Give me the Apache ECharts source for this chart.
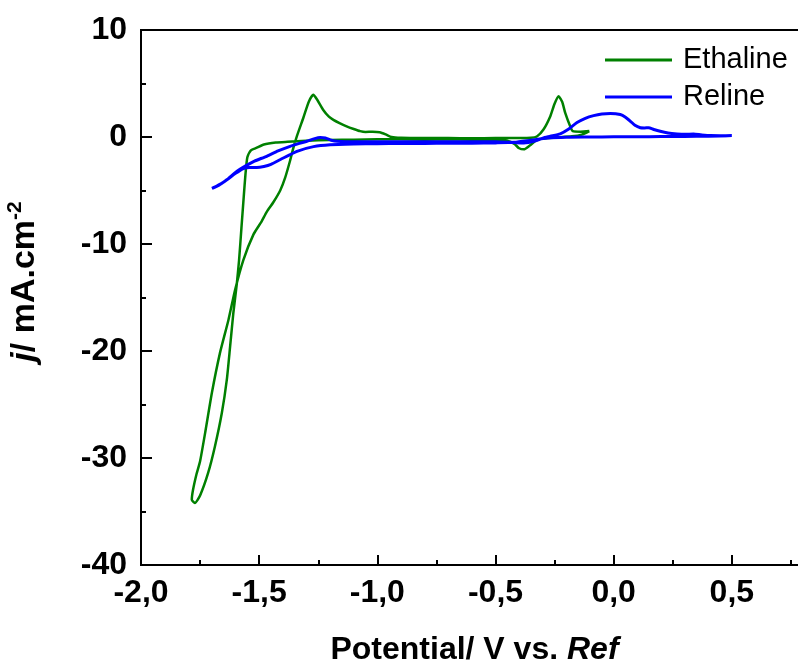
<!DOCTYPE html>
<html>
<head>
<meta charset="utf-8">
<script src="https://cdn.jsdelivr.net/npm/echarts@6/dist/echarts.min.js"></script>
<style>
html,body{margin:0;padding:0;background:#fff;}
#chart{width:798px;height:663px;}
</style>
</head>
<body>
<div id="chart"></div>
<script>
// ---- data ----
const seriesNames = ["Ethaline", "Reline"];
const xTickValues = [-2.0, -1.5, -1.0, -0.5, 0.0, 0.5];
const yTickValues = [-40, -30, -20, -10, 0, 10];

const ethalineV = [
  -0.103,-0.135,-0.177,-0.25,-0.30,-0.33,-0.355,-0.38,-0.40,-0.42,-0.45,-0.50,-0.60,-0.70,-0.80,-0.90,-1.00,-1.10,-1.20,-1.30,
  -1.38,-1.43,-1.48,-1.51,-1.535,-1.55,-1.558,-1.565,-1.575,-1.585,-1.595,-1.609,-1.623,-1.637,-1.658,-1.687,-1.716,-1.75,-1.772,-1.785,
  -1.78,-1.765,-1.75,-1.729,-1.70,-1.666,-1.63,-1.602,-1.567,-1.524,-1.49,-1.468,-1.44,-1.411,-1.39,-1.369,-1.355,-1.34,-1.313,-1.29,
  -1.271,-1.255,-1.228,-1.205,-1.186,-1.16,-1.13,-1.10,-1.073,-1.05,-1.02,-0.99,-0.965,-0.94,-0.90,-0.80,-0.70,-0.60,-0.50,-0.40,
  -0.35,-0.325,-0.297,-0.268,-0.25,-0.233,-0.218,-0.205,-0.184,-0.173,-0.14,-0.103
];
const ethalineJ = [
  0.55,0.22,0.06,-0.05,-0.15,-0.35,-0.8,-1.15,-1.05,-0.65,-0.35,-0.25,-0.25,-0.22,-0.25,-0.22,-0.22,-0.25,-0.28,-0.35,
  -0.45,-0.52,-0.7,-1.0,-1.25,-1.9,-3.5,-5.5,-8.5,-11.5,-13.8,-16.4,-19.6,-22.7,-25.8,-28.9,-31.4,-33.5,-34.2,-33.9,
  -33.0,-31.5,-30.3,-27.7,-23.9,-20.2,-17.1,-14.3,-11.5,-9.1,-7.9,-7.0,-6.1,-5.0,-3.8,-2.2,-1.0,0.1,1.8,3.3,
  3.95,3.5,2.5,1.9,1.6,1.3,1.0,0.75,0.55,0.47,0.5,0.45,0.25,0.0,-0.08,-0.1,-0.1,-0.12,-0.1,-0.1,
  -0.08,0.05,0.7,1.95,3.1,3.8,3.3,2.25,1.0,0.55,0.5,0.55
];

const relineV = [
  0.50,0.40,0.30,0.20,0.10,0.00,-0.10,-0.20,-0.28,-0.35,-0.42,-0.50,-0.60,-0.70,-0.80,-0.90,-1.00,-1.10,-1.20,-1.27,
  -1.34,-1.41,-1.45,-1.48,-1.51,-1.54,-1.567,-1.60,-1.637,-1.67,-1.70,
  -1.69,-1.66,-1.637,-1.60,-1.58,-1.55,-1.52,-1.468,-1.42,-1.369,-1.33,-1.298,-1.265,-1.242,-1.22,-1.195,-1.17,-1.10,-1.00,
  -0.90,-0.80,-0.70,-0.60,-0.50,-0.42,-0.38,-0.33,-0.30,-0.268,-0.226,-0.19,-0.155,-0.12,-0.085,-0.05,-0.014,0.028,0.05,0.071,
  0.09,0.113,0.13,0.148,0.17,0.197,0.23,0.268,0.30,0.338,0.37,0.409,0.45,0.50
];
const relineJ = [
  0.12,0.08,0.05,0.04,0.03,0.02,0.0,-0.02,-0.1,-0.3,-0.5,-0.55,-0.58,-0.58,-0.6,-0.6,-0.62,-0.65,-0.72,-0.9,
  -1.34,-2.1,-2.55,-2.75,-2.85,-2.85,-2.95,-3.4,-4.0,-4.5,-4.8,
  -4.7,-4.35,-4.0,-3.3,-3.0,-2.6,-2.25,-1.8,-1.3,-0.87,-0.6,-0.4,-0.15,-0.05,-0.1,-0.3,-0.4,-0.45,-0.45,
  -0.45,-0.45,-0.45,-0.45,-0.45,-0.52,-0.55,-0.35,-0.1,0.07,0.3,0.75,1.35,1.75,2.0,2.15,2.2,2.1,1.85,1.47,
  1.1,0.87,0.85,0.87,0.7,0.53,0.38,0.29,0.25,0.27,0.2,0.13,0.12,0.13
];

function zip(a, b) { return a.map((v, i) => [v, b[i]]); }

const FONT = "'Liberation Sans', Arial, sans-serif";
const chart = echarts.init(document.getElementById('chart'), null, {renderer: 'canvas'});

chart.setOption({
  backgroundColor: '#ffffff',
  animation: false,
  grid: {
    left: 141, top: 30, width: 709, height: 535,
    containLabel: false, outerBoundsMode: 'none',
    show: true, borderColor: '#000', borderWidth: 2, backgroundColor: 'transparent'
  },
  legend: {
    data: [{name: seriesNames[0], icon: 'rect'}, {name: seriesNames[1], icon: 'rect'}],
    orient: 'vertical',
    left: 605, top: 45,
    padding: 0,
    itemWidth: 67, itemHeight: 3,
    itemGap: 7,
    textStyle: {fontFamily: FONT, fontSize: 29, color: '#000', lineHeight: 30, padding: [0,0,0,6]}
  },
  xAxis: {
    type: 'value',
    min: -2, max: 1, interval: 0.5,
    name: '{b|Potential/ V vs. }{i|Ref}',
    nameLocation: 'middle',
    nameGap: 69,
    nameTextStyle: {
      padding: [0, 42, 0, 0],
      rich: {
        b: {fontFamily: FONT, fontSize: 32, fontWeight: 'bold', color: '#000'},
        i: {fontFamily: FONT, fontSize: 32, fontWeight: 'bold', fontStyle: 'italic', color: '#000'}
      }
    },
    axisLine: {show: true, onZero: false, lineStyle: {color: '#000', width: 2}},
    axisTick: {show: true, inside: true, length: 10, lineStyle: {color: '#000', width: 2}},
    minorTick: {show: true, splitNumber: 2, length: 5, lineStyle: {color: '#000', width: 2}},
    splitLine: {show: false},
    axisLabel: {
      margin: 12, fontFamily: FONT, fontSize: 32, fontWeight: 'bold', color: '#000',
      formatter: v => xTickValues.some(t => Math.abs(t - v) < 1e-9) ? v.toFixed(1).replace('.', ',') : ''
    }
  },
  yAxis: {
    type: 'value',
    min: -40, max: 10, interval: 10,
    name: '{i|j}{b|/ mA.cm}{s|-2}',
    nameLocation: 'middle',
    nameRotate: 90,
    nameGap: 96,
    nameTextStyle: {
      padding: [0, 0, 0, 32],
      rich: {
        i: {fontFamily: FONT, fontSize: 34, fontWeight: 'bold', fontStyle: 'italic', color: '#000', lineHeight: 40},
        b: {fontFamily: FONT, fontSize: 34, fontWeight: 'bold', color: '#000', lineHeight: 40},
        s: {fontFamily: FONT, fontSize: 21, fontWeight: 'bold', color: '#000', verticalAlign: 'top', lineHeight: 40, padding: [0,0,14,0]}
      }
    },
    axisLine: {show: true, onZero: false, lineStyle: {color: '#000', width: 2}},
    axisTick: {show: true, inside: true, length: 11, lineStyle: {color: '#000', width: 2}},
    minorTick: {show: true, splitNumber: 2, length: 5, lineStyle: {color: '#000', width: 2}},
    splitLine: {show: false},
    axisLabel: {
      margin: 14, fontFamily: FONT, fontSize: 32, fontWeight: 'bold', color: '#000',
      formatter: v => yTickValues.includes(v) ? String(v) : ''
    }
  },
  series: [
    {
      name: seriesNames[0], type: 'line', data: zip(ethalineV, ethalineJ),
      showSymbol: false, symbol: 'none', smooth: 0.2,
      lineStyle: {color: '#008000', width: 2.5}, itemStyle: {color: '#008000'}
    },
    {
      name: seriesNames[1], type: 'line', data: zip(relineV, relineJ),
      showSymbol: false, symbol: 'none', smooth: 0.2,
      lineStyle: {color: '#0000ff', width: 3}, itemStyle: {color: '#0000ff'}
    }
  ]
});
</script>
</body>
</html>
